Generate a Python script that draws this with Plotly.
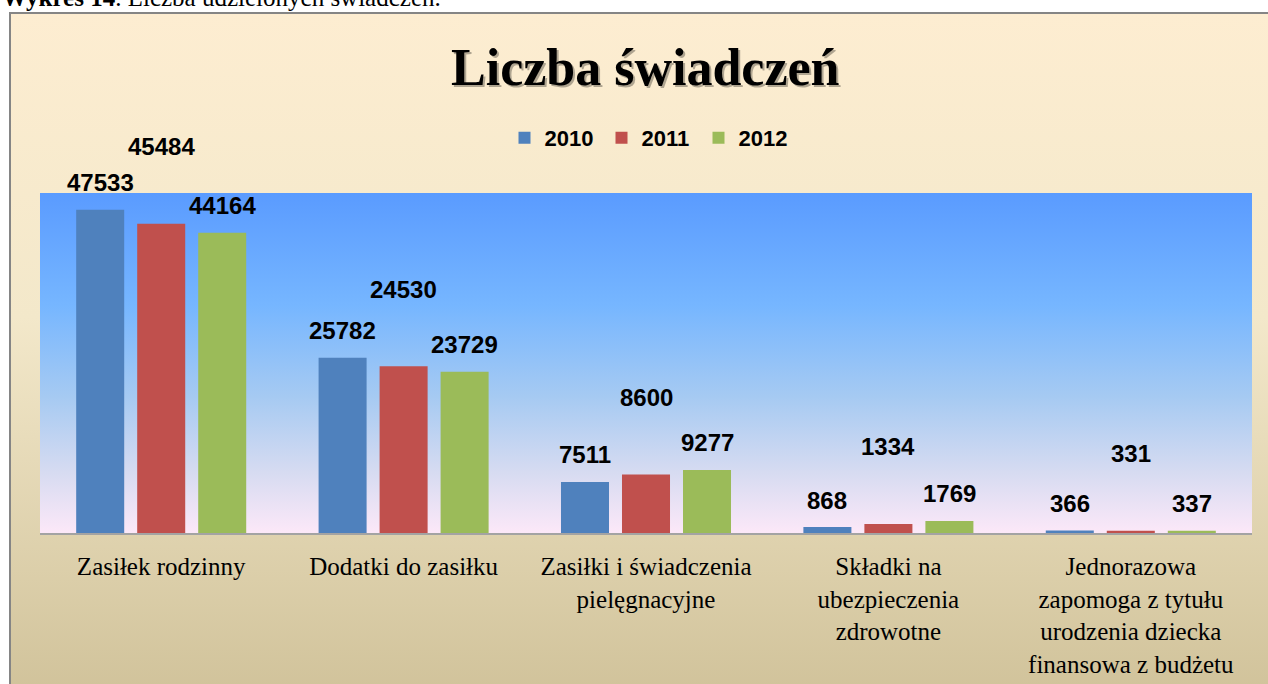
import base64
import plotly.graph_objects as go

# ---- data ----
categories = [
    "Zasiłek rodzinny",
    "Dodatki do zasiłku",
    "Zasiłki i świadczenia<br>pielęgnacyjne",
    "Składki na<br>ubezpieczenia<br>zdrowotne",
    "Jednorazowa<br>zapomoga z tytułu<br>urodzenia dziecka<br>finansowa z budżetu",
]
years = ["2010", "2011", "2012"]
values_2010 = [47533, 25782, 7511, 868, 366]
values_2011 = [45484, 24530, 8600, 1334, 331]
values_2012 = [44164, 23729, 9277, 1769, 337]
series_values = [values_2010, values_2011, values_2012]
colors = ["#4F81BD", "#C0504D", "#9BBB59"]
label_lift = [27, 77, 27]  # px above bar top (label centre)

# ---- geometry ----
W, H = 1268, 684
ML, MR, MT, MB = 40, 16, 193, 151
PW, PH = W - ML - MR, H - MT - MB
BARGAP = 0.245
GROUPGAP = 0.213


def px_x(px):
    return (px - ML) / PW


def px_y(py):
    return (H - MB - py) / PH


def grad_uri(stops):
    st = "".join(f'<stop offset="{o}" stop-color="{c}"/>' for o, c in stops)
    svg = ('<svg xmlns="http://www.w3.org/2000/svg" width="100" height="100" '
           'preserveAspectRatio="none"><defs><linearGradient id="g" x1="0" y1="0" '
           f'x2="0" y2="1">{st}</linearGradient></defs>'
           '<rect width="100" height="100" fill="url(#g)"/></svg>')
    return "data:image/svg+xml;base64," + base64.b64encode(svg.encode()).decode()


paper_grad = grad_uri([(0, "#FDEDD1"), (0.45, "#F3E8CA"), (1, "#D1C39B")])
plot_grad = grad_uri([(0, "#5A9BFF"), (0.33, "#76B6FF"), (0.6, "#A6CAF2"),
                      (0.82, "#D6DBF1"), (1, "#FCE8F8")])

fig = go.Figure()
for name, vals, col in zip(years, series_values, colors):
    fig.add_trace(go.Bar(x=categories, y=vals, name=name, marker_color=col,
                         marker_line_width=0, hoverinfo="skip"))

annotations = []
slot = (1 - BARGAP) / len(years)
for j, (vals, lift) in enumerate(zip(series_values, label_lift)):
    off = (j - (len(years) - 1) / 2) * slot
    for i, v in enumerate(vals):
        annotations.append(dict(
            x=i + off, y=v, xref="x", yref="y", text=f"<b>{v}</b>",
            showarrow=False, yshift=lift, yanchor="middle", xanchor="center",
            font=dict(family="Liberation Sans", size=24, color="#000000")))

# title with shadow
for dx, dy, col in [(2, -2, "rgba(0,0,0,0.3)"), (0, 0, "#000000")]:
    annotations.append(dict(
        x=px_x(645), y=px_y(68), xref="paper", yref="paper",
        text="<b>Liczba świadczeń</b>", showarrow=False, xshift=dx, yshift=dy,
        xanchor="center", yanchor="middle",
        font=dict(family="Liberation Serif", size=52, color=col)))

# caption at top (partially cut, as in the reference)
annotations.append(dict(
    x=px_x(0), y=px_y(-3), xref="paper", yref="paper",
    text="<b>Wykres 14</b>. Liczba udzielonych świadczeń.", showarrow=False,
    xanchor="left", yanchor="middle",
    font=dict(family="Liberation Serif", size=25, color="#000000")))

fig.update_layout(
    width=W, height=H,
    margin=dict(l=ML, r=MR, t=MT, b=MB, autoexpand=False),
    paper_bgcolor="#FFFFFF",
    plot_bgcolor="rgba(0,0,0,0)",
    barmode="group", bargap=BARGAP, bargroupgap=GROUPGAP,
    showlegend=True,
    hovermode=False,
    legend=dict(orientation="h", x=px_x(650), xanchor="center",
                y=px_y(138), yanchor="middle", bgcolor="rgba(0,0,0,0)",
                font=dict(family="Liberation Sans", size=22, color="#000000",
                          weight="bold"),
                entrywidth=52, itemwidth=30),
    images=[
        dict(source=paper_grad, xref="paper", yref="paper",
             x=px_x(10), y=px_y(13), sizex=px_x(W + 5) - px_x(10),
             sizey=px_y(13) - px_y(H + 5), xanchor="left", yanchor="top",
             sizing="stretch", layer="below"),
        dict(source=plot_grad, xref="paper", yref="paper",
             x=0, y=1, sizex=1, sizey=1, xanchor="left", yanchor="top",
             sizing="stretch", layer="below"),
    ],
    shapes=[
        dict(type="rect", xref="paper", yref="paper",
             x0=px_x(10), y0=px_y(H + 5), x1=px_x(W + 5), y1=px_y(13),
             line=dict(color="#858585", width=2), fillcolor="rgba(0,0,0,0)",
             layer="above"),
    ],
    annotations=annotations,
    xaxis=dict(showline=True, linecolor="#A3A3A3", linewidth=2,
               showgrid=False, ticks="", ticklabelstandoff=10,
               tickfont=dict(family="Liberation Serif", size=25, color="#000000"),
               automargin=False, fixedrange=True),
    yaxis=dict(range=[0, 50000], visible=False, showgrid=False,
               automargin=False, fixedrange=True),
)

fig.write_html(
    "out.html",
    config={"displayModeBar": False, "staticPlot": True},
    post_script="document.body.style.margin='0';document.body.style.overflow='hidden';",
)
